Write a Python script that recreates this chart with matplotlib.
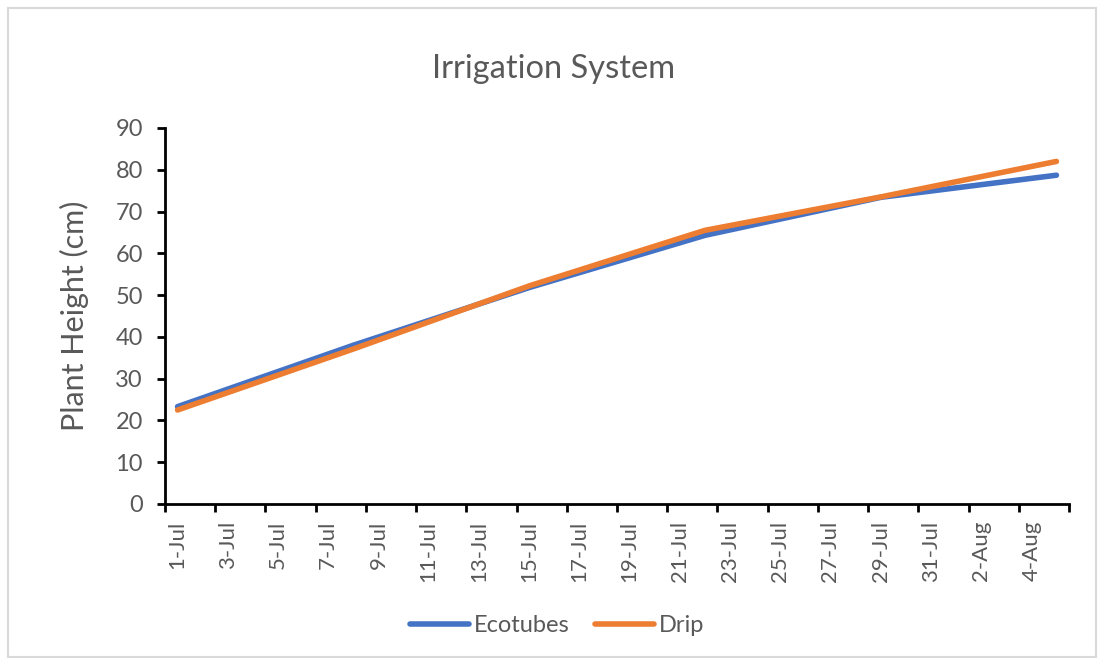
import matplotlib
matplotlib.use("Agg")
import matplotlib.pyplot as plt
import matplotlib.dates as mdates
from matplotlib.patches import Rectangle
import pandas as pd
from datetime import timedelta

plt.rcParams['font.family'] = ['Lato', 'DejaVu Sans']

# ---- data ----
dates = ["2023-07-01", "2023-07-08", "2023-07-15", "2023-07-22", "2023-07-29", "2023-08-05"]
ecotubes = [23.3, 38.0, 51.8, 64.3, 73.4, 78.7]
drip = [22.5, 37.1, 52.2, 65.5, 73.5, 82.0]
series_names = ["Ecotubes", "Drip"]
tick_labels = ["1-Jul", "3-Jul", "5-Jul", "7-Jul", "9-Jul", "11-Jul", "13-Jul", "15-Jul",
               "17-Jul", "19-Jul", "21-Jul", "23-Jul", "25-Jul", "27-Jul", "29-Jul",
               "31-Jul", "2-Aug", "4-Aug"]
y_ticks = [0, 10, 20, 30, 40, 50, 60, 70, 80, 90]

x = pd.to_datetime(dates)
start = x[0]
end = x[-1]

fig = plt.figure(figsize=(10.98, 6.59), dpi=100)
ax = fig.add_axes([165/1098, 1-504/659, (1069-165)/1098, (504-128)/659])

text_col = "#595959"
ax.plot(x, ecotubes, color="#4472C4", lw=4, solid_capstyle="round", solid_joinstyle="round",
        label=series_names[0])
ax.plot(x, drip, color="#ED7D31", lw=4, solid_capstyle="round", solid_joinstyle="round",
        label=series_names[1])

half = timedelta(hours=12)
ax.set_xlim(mdates.date2num(start - half), mdates.date2num(end + half))
ax.set_ylim(0, 90)

label_pos = pd.date_range(start, periods=len(tick_labels), freq="2D")
ax.set_xticks(mdates.date2num(label_pos))
ax.set_xticklabels(tick_labels, rotation=90, color=text_col, fontsize=16)
boundaries = [mdates.date2num(d - half) for d in pd.date_range(start, periods=len(tick_labels) + 1, freq="2D")]
ax.set_xticks(boundaries, minor=True)
ax.tick_params(axis="x", which="major", length=0, pad=12)
ax.tick_params(axis="x", which="minor", length=6, width=2, color="black", direction="out")

ax.set_yticks(y_ticks)
ax.set_yticklabels([str(v) for v in y_ticks], color=text_col, fontsize=17)
ax.tick_params(axis="y", length=6, width=2, color="black", pad=10)

for s in ["top", "right"]:
    ax.spines[s].set_visible(False)
for s in ["left", "bottom"]:
    ax.spines[s].set_linewidth(2)
    ax.spines[s].set_color("black")

ax.set_ylabel("Plant Height (cm)", fontsize=22, color=text_col)
ax.yaxis.set_label_coords(-0.084, 0.5)

fig.text(554/1098, 1-69/659, "Irrigation System", ha="center", va="center",
         fontsize=23.5, color=text_col)

leg = fig.legend(loc="center", bbox_to_anchor=(557/1098, 1-626/659), ncol=2, frameon=False,
                 fontsize=17, handlelength=2.5, handletextpad=0.2, columnspacing=1.1)
for t in leg.get_texts():
    t.set_color(text_col)

fig.patches.append(Rectangle((8/1098, 2/659), 1088/1098, 649/659, transform=fig.transFigure,
                             fill=False, edgecolor="#d9d9d9", lw=1.5))

fig.savefig("out.png", dpi=100)
